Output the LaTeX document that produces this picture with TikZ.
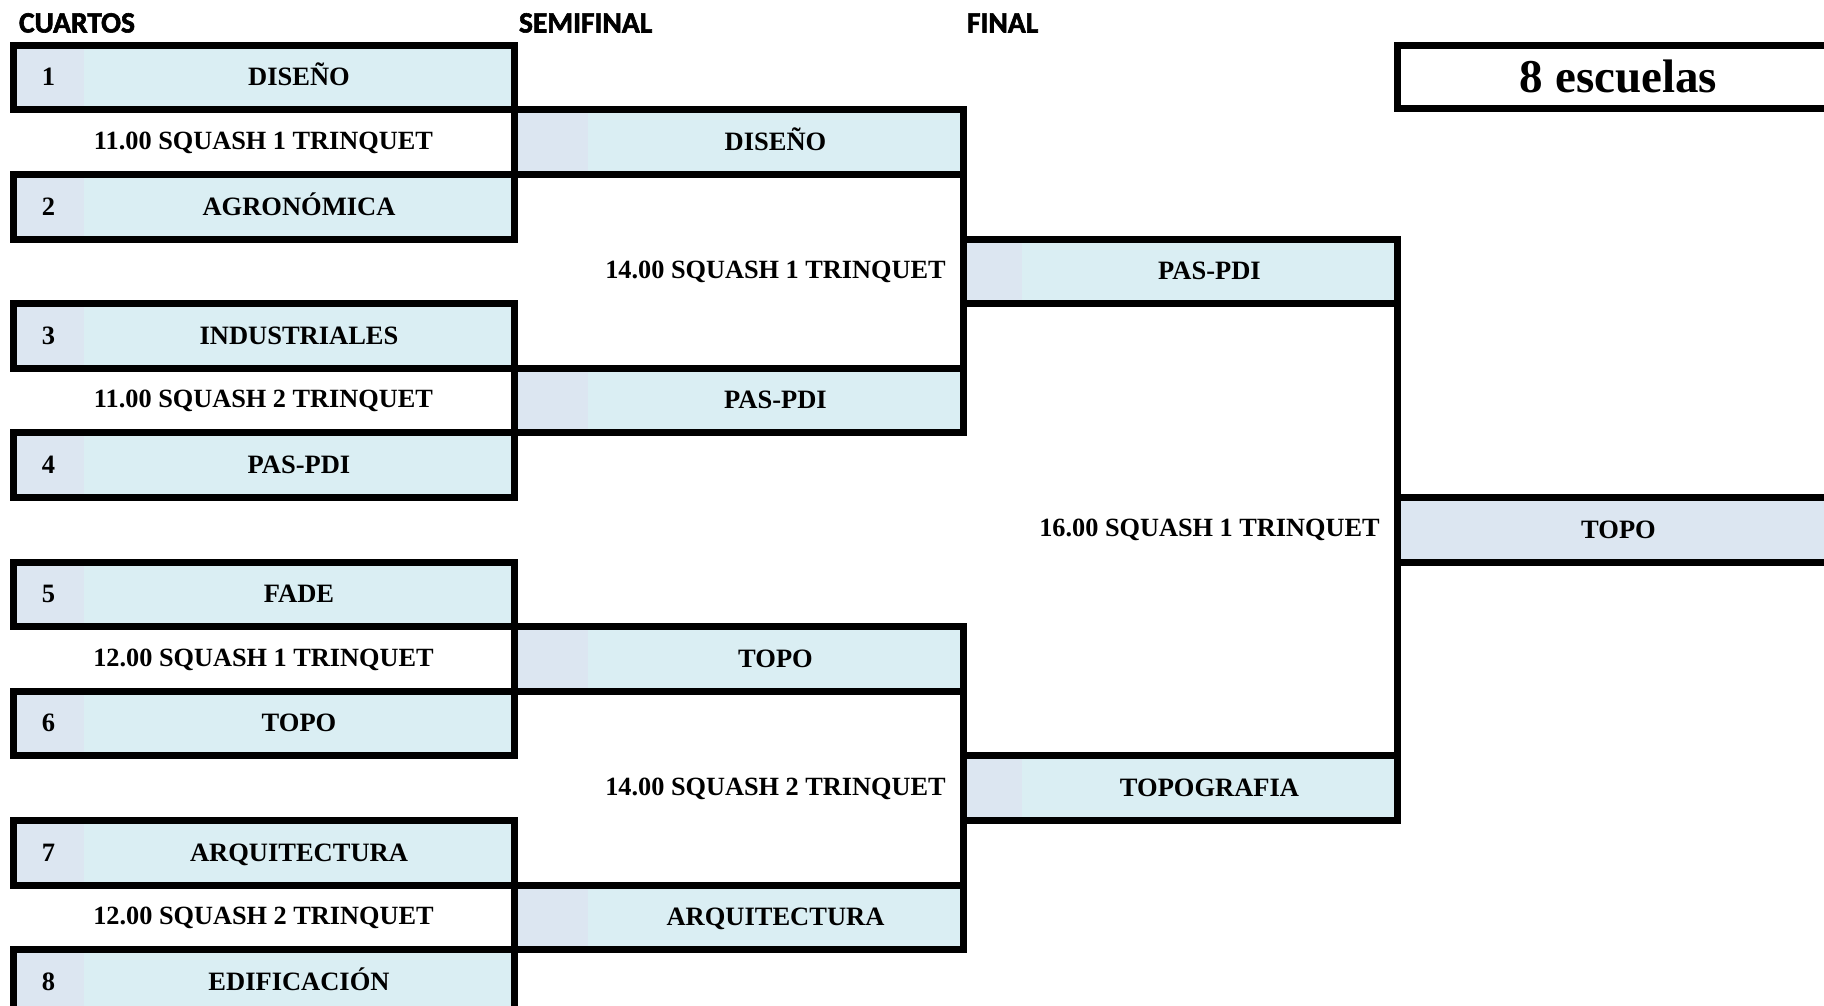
\documentclass[tikz,border=0pt]{standalone}
\usepackage{fontspec}
\setmainfont{Liberation Serif}
\newfontfamily\hdrfont{Carlito}[FakeBold=2]
\definecolor{lightc}{HTML}{DAEEF3}
\definecolor{darkc}{HTML}{DCE6F1}
\tikzset{
  every node/.style={inner sep=0pt, outer sep=0pt},
  cell/.style={minimum height=64.6pt, text height=16.5pt, text depth=0pt,
    font=\fontsize{26.5}{30}\selectfont\bfseries},
  numcell/.style={cell, fill=darkc, minimum width=71pt},
  qname/.style={cell, fill=lightc, minimum width=430pt},
  sdark/.style={cell, fill=darkc, minimum width=74pt},
  sname/.style={cell, fill=lightc, minimum width=375pt},
  fdark/.style={cell, fill=darkc, minimum width=59pt},
  fname/.style={cell, fill=lightc, minimum width=375pt},
  champ/.style={cell, fill=darkc, minimum width=443pt},
  timelbl/.style={text height=14pt, text depth=0pt,
    font=\fontsize{26.3}{30}\selectfont\bfseries},
  hdr/.style={anchor=west, text height=19pt, text depth=0pt,
    font=\hdrfont\fontsize{29.5}{31}\selectfont\bfseries},
  border/.style={line width=7pt, line join=miter},
  conn/.style={line width=7pt, line cap=rect}
}
\begin{document}
\begin{tikzpicture}[x=1pt, y=-1pt]
\clip (0,0) rectangle (1824,1006);
\fill[white] (0,0) rectangle (1824,1006);

% headers
\node[hdr] (h1) at (19,23) {CUARTOS};
\node[hdr] (h2) at (519,23) {SEMIFINAL};
\node[hdr] (h3) at (967,23) {FINAL};

% quarter-final boxes
\node[numcell] (n1) at (48.5,77.6) {1};  \node[qname] (q1) at (299,77.6) {DISEÑO};
\node[numcell] (n2) at (48.5,206.8) {2}; \node[qname] (q2) at (299,206.8) {AGRONÓMICA};
\node[numcell] (n3) at (48.5,336.0) {3}; \node[qname] (q3) at (299,336.0) {INDUSTRIALES};
\node[numcell] (n4) at (48.5,465.2) {4}; \node[qname] (q4) at (299,465.2) {PAS-PDI};
\node[numcell] (n5) at (48.5,594.4) {5}; \node[qname] (q5) at (299,594.4) {FADE};
\node[numcell] (n6) at (48.5,723.6) {6}; \node[qname] (q6) at (299,723.6) {TOPO};
\node[numcell] (n7) at (48.5,852.8) {7}; \node[qname] (q7) at (299,852.8) {ARQUITECTURA};
\node[numcell] (n8) at (48.5,982.0) {8}; \node[qname] (q8) at (299,982.0) {EDIFICACIÓN};
\foreach \i in {1,...,8} {\draw[border] (n\i.north west) rectangle (q\i.south east);}

% quarter-final match labels
\node[timelbl] (t1) at (263.5,142.2) {11.00 SQUASH 1 TRINQUET};
\node[timelbl] (t2) at (263.5,400.6) {11.00 SQUASH 2 TRINQUET};
\node[timelbl] (t3) at (263.5,659.0) {12.00 SQUASH 1 TRINQUET};
\node[timelbl] (t4) at (263.5,917.4) {12.00 SQUASH 2 TRINQUET};

% semifinal boxes
\node[sdark] (sd1) at (551,142.2) {}; \node[sname] (s1) at (775.5,142.2) {DISEÑO};
\node[sdark] (sd2) at (551,400.6) {}; \node[sname] (s2) at (775.5,400.6) {PAS-PDI};
\node[sdark] (sd3) at (551,659.0) {}; \node[sname] (s3) at (775.5,659.0) {TOPO};
\node[sdark] (sd4) at (551,917.4) {}; \node[sname] (s4) at (775.5,917.4) {ARQUITECTURA};
\foreach \i in {1,...,4} {\draw[border] (sd\i.north west) rectangle (s\i.south east);}

% semifinal match labels
\node[timelbl] (u1) at (775.5,271.4) {14.00 SQUASH 1 TRINQUET};
\node[timelbl] (u2) at (775.5,788.2) {14.00 SQUASH 2 TRINQUET};

% final boxes
\node[fdark] (fd1) at (992.5,271.4) {}; \node[fname] (f1) at (1209.5,271.4) {PAS-PDI};
\node[fdark] (fd2) at (992.5,788.2) {}; \node[fname] (f2) at (1209.5,788.2) {TOPOGRAFIA};
\foreach \i in {1,2} {\draw[border] (fd\i.north west) rectangle (f\i.south east);}

% final match label
\node[timelbl] (v1) at (1209.5,529.8) {16.00 SQUASH 1 TRINQUET};

% champion
\node[champ] (c) at (1618.5,529.8) {TOPO};
\draw[border] (c.north west) rectangle (c.south east);

% title box
\node[minimum width=443pt, minimum height=63.4pt, fill=white, text height=31pt, text depth=0pt,
  font=\fontsize{47}{52}\selectfont\bfseries] (title) at (1618.5,77.0) {8 escuelas};
\draw[border] (title.north west) rectangle (title.south east);

% bracket connectors
\draw[conn] (q1.north east) -- (q2.south east);
\draw[conn] (q3.north east) -- (q4.south east);
\draw[conn] (q5.north east) -- (q6.south east);
\draw[conn] (q7.north east) -- (q8.south east);
\draw[conn] (s1.north east) -- (s2.south east);
\draw[conn] (s3.north east) -- (s4.south east);
\draw[conn] (f1.north east) -- (f2.south east);
\end{tikzpicture}
\end{document}
